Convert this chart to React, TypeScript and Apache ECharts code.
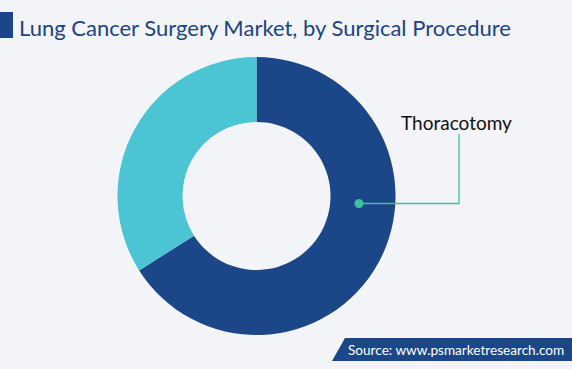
import React, { useEffect, useRef } from "react";
import * as echarts from "echarts";

const titleText = "Lung Cancer Surgery Market, by Surgical Procedure";
const sourceText = "Source: www.psmarketresearch.com";
const categories = ["Thoracotomy", "Minimally Invasive Surgery"];
const values = [66, 34];
const colors = ["#1b4788", "#4bc5d4"];
const labeledCategory = "Thoracotomy";

export default function App() {
  const ref = useRef<HTMLDivElement>(null);
  useEffect(() => {
    if (!ref.current) return;
    const chart = echarts.init(ref.current, undefined, { renderer: "svg" });
    chart.setOption({
      animation: false,
      backgroundColor: "#f2f4f8",
      title: {
        text: titleText,
        left: 14,
        top: 11,
        textStyle: {
          fontFamily: "Lato",
          fontSize: 22,
          fontWeight: "normal",
          color: "#1b4586",
        },
      },
      series: [
        {
          type: "pie",
          center: [256.5, 196],
          radius: [74, 139],
          startAngle: 90,
          clockwise: true,
          label: { show: false },
          labelLine: { show: false },
          emphasis: { disabled: true },
          z: 2,
          data: categories.map((c, i) => ({
            name: c,
            value: values[i],
            itemStyle: { color: colors[i] },
          })),
        },
      ],
      graphic: [
        { type: "rect", z: 100, shape: { x: 0, y: 12, width: 13, height: 26 }, style: { fill: "#1b4788" } },
        {
          type: "polyline",
          z: 100,
          shape: { points: [[359, 203.5], [459, 203.5], [459, 134]] },
          style: { stroke: "#3fc0a0", lineWidth: 1.3, fill: "none" },
        },
        { type: "circle", z: 101, shape: { cx: 359, cy: 203.5, r: 4.5 }, style: { fill: "#3fc0a0" } },
        {
          type: "text",
          z: 100,
          x: 401,
          y: 132,
          style: {
            text: labeledCategory,
            fontFamily: "Lato",
            fontSize: 19,
            fill: "#111111",
            verticalAlign: "bottom",
          },
        },
        {
          type: "polygon",
          z: 100,
          shape: { points: [[332, 361], [345, 338], [572, 338], [572, 361]] },
          style: { fill: "#1b4788" },
        },
        {
          type: "text",
          z: 101,
          x: 348,
          y: 349.5,
          style: {
            text: sourceText,
            fontFamily: "Lato",
            fontSize: 13.6,
            fill: "#ffffff",
            verticalAlign: "middle",
          },
        },
      ],
    });
    return () => chart.dispose();
  }, []);
  return <div ref={ref} style={{ width: 572, height: 369, position: "absolute", left: 0, top: 0 }} />;
}
